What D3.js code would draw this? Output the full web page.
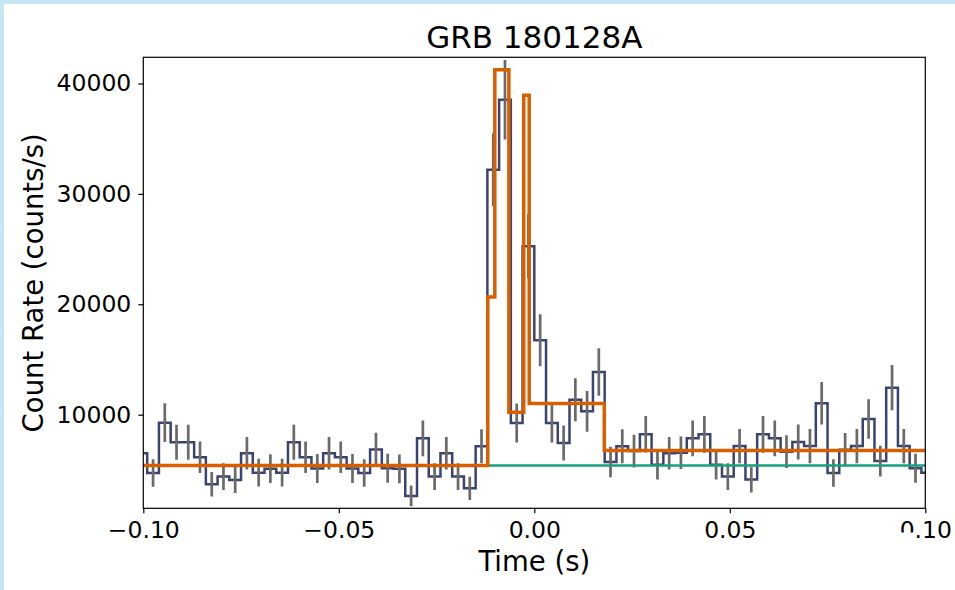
<!DOCTYPE html>
<html>
<head>
<meta charset="utf-8">
<script src="https://cdn.jsdelivr.net/npm/d3@7"></script>
<style>
  body { margin: 0; background: #ffffff; }
  svg { display: block; }
</style>
</head>
<body>
<svg id="chart" width="955" height="590"></svg>
<script>
// Light curve binning (seconds relative to trigger)
const binStart = -0.102;
const binWidth = 0.003;

// Count rate per bin (counts/s)
const rates = [
  6500, 4720, 9280, 7500, 7500, 6140, 3700, 4390, 4080, 6500,
  4750, 5110, 4750, 7500, 6140, 5120, 6500, 6140, 5120, 4720,
  6850, 5150, 5100, 2640, 7860, 4390, 6500, 4390, 3330, 7150,
  32190, 38530, 9250, 25250, 16740, 9250, 7440, 11360, 10300, 13870,
  5720, 7150, 6700, 8230, 5470, 6500, 6550, 7860, 8220, 5470,
  4390, 7160, 4120, 8220, 7860, 6650, 7520, 7160, 11030, 4720,
  6830, 7160, 9600, 5800, 12450, 7160, 5150, 4750
];

// 1-sigma uncertainty per bin (counts/s)
const rateErrors = [
  1470, 1250, 1760, 1580, 1580, 1430, 1110, 1210, 1170, 1470,
  1260, 1300, 1260, 1580, 1430, 1310, 1470, 1430, 1310, 1250,
  1510, 1310, 1300, 940, 1620, 1210, 1470, 1210, 1050, 1540,
  3300, 3600, 1760, 2900, 2360, 1760, 1580, 1950, 1850, 2150,
  1380, 1540, 1490, 1660, 1350, 1470, 1480, 1620, 1660, 1350,
  1210, 1550, 1170, 1660, 1620, 1490, 1580, 1550, 1920, 1250,
  1510, 1550, 1790, 1390, 2040, 1550, 1310, 1260
];

// Bayesian blocks representation
const blockEdges = [-0.1, -0.0119, -0.0101, -0.0065, -0.0027, -0.0013, 0.0179, 0.1];
const blockRates = [5400, 20660, 41250, 10230, 38930, 11020, 6760];

// Background level
const backgroundRate = 5390;

const xTicks = [-0.10, -0.05, 0.00, 0.05, 0.10];
const yTicks = [10000, 20000, 30000, 40000];

const titleText = "GRB 180128A";
const xLabel = "Time (s)";
const yLabel = "Count Rate (counts/s)";

// ---- layout ----
const W = 955, H = 590;
const plot = { left: 143.3, top: 57.3, right: 925.3, bottom: 508.3 };

const svg = d3.select("#chart");

// page frame strips
svg.append("rect").attr("x", 0).attr("y", 0).attr("width", W).attr("height", H).attr("fill", "#ffffff");
svg.append("rect").attr("x", 0).attr("y", 0).attr("width", W).attr("height", 4).attr("fill", "#c6e6f5");
svg.append("rect").attr("x", 0).attr("y", 0).attr("width", 4).attr("height", H).attr("fill", "#c6e6f5");

const x = d3.scaleLinear().domain([-0.1, 0.1]).range([plot.left, plot.right]);
const y = d3.scaleLinear().domain([1520, 42370]).range([plot.bottom, plot.top]);

svg.append("clipPath").attr("id", "plotClip")
  .append("rect")
  .attr("x", plot.left).attr("y", plot.top)
  .attr("width", plot.right - plot.left).attr("height", plot.bottom - plot.top);

const g = svg.append("g").attr("clip-path", "url(#plotClip)");

// histogram step line
const bins = rates.map((r, i) => ({
  t0: binStart + i * binWidth,
  t1: binStart + (i + 1) * binWidth,
  rate: r,
  err: rateErrors[i]
}));
const stepPts = bins.map(b => [b.t0, b.rate]);
stepPts.push([bins[bins.length - 1].t1, bins[bins.length - 1].rate]);

const stepLine = d3.line()
  .x(d => x(d[0]))
  .y(d => y(d[1]))
  .curve(d3.curveStepAfter);

g.append("path")
  .attr("d", stepLine(stepPts))
  .attr("fill", "none")
  .attr("stroke", "#3b4470")
  .attr("stroke-width", 2.5);

// error bars at bin centres
g.selectAll("line.err")
  .data(bins)
  .join("line")
  .attr("class", "err")
  .attr("x1", d => x((d.t0 + d.t1) / 2))
  .attr("x2", d => x((d.t0 + d.t1) / 2))
  .attr("y1", d => y(d.rate - d.err))
  .attr("y2", d => y(d.rate + d.err))
  .attr("stroke", "#6a6a6a")
  .attr("stroke-width", 2.7);

// background
g.append("line")
  .attr("x1", x(-0.1)).attr("x2", x(0.1))
  .attr("y1", y(backgroundRate)).attr("y2", y(backgroundRate))
  .attr("stroke", "#17a07a")
  .attr("stroke-width", 2.5);

// Bayesian blocks
const blockPts = blockRates.map((r, i) => [blockEdges[i], r]);
blockPts.push([blockEdges[blockEdges.length - 1], blockRates[blockRates.length - 1]]);
g.append("path")
  .attr("d", stepLine(blockPts))
  .attr("fill", "none")
  .attr("stroke", "#d75f00")
  .attr("stroke-width", 3.5);

// ---- axes ----
const fontFam = "'DejaVu Sans', sans-serif";

const xAxis = d3.axisBottom(x).tickValues(xTicks).tickFormat(d3.format(".2f"))
  .tickSize(5).tickPadding(8);
const yAxis = d3.axisLeft(y).tickValues(yTicks).tickFormat(d3.format("d"))
  .tickSize(5).tickPadding(7);

const gx = svg.append("g").attr("transform", `translate(0,${plot.bottom})`).call(xAxis);
const gy = svg.append("g").attr("transform", `translate(${plot.left},0)`).call(yAxis);

[gx, gy].forEach(ax => {
  ax.select(".domain").remove();
  ax.selectAll(".tick line").attr("stroke", "#000").attr("stroke-width", 1.2);
  ax.selectAll(".tick text")
    .attr("fill", "#000")
    .style("font-family", fontFam)
    .style("font-size", "23.5px");
});

// frame
svg.append("rect")
  .attr("x", plot.left).attr("y", plot.top)
  .attr("width", plot.right - plot.left).attr("height", plot.bottom - plot.top)
  .attr("fill", "none")
  .attr("stroke", "#000")
  .attr("stroke-width", 1.2);

// clipped corner of the last tick label
svg.append("rect")
  .attr("x", 898).attr("y", 532.5).attr("width", 17).attr("height", 10)
  .attr("fill", "#ffffff");

// title and axis labels
svg.append("text")
  .attr("x", (plot.left + plot.right) / 2).attr("y", 48)
  .attr("text-anchor", "middle")
  .style("font-family", fontFam).style("font-size", "31px")
  .attr("fill", "#000")
  .text(titleText);

svg.append("text")
  .attr("x", (plot.left + plot.right) / 2).attr("y", 571)
  .attr("text-anchor", "middle")
  .style("font-family", fontFam).style("font-size", "27.5px")
  .attr("fill", "#000")
  .text(xLabel);

svg.append("text")
  .attr("transform", `translate(43,${(plot.top + plot.bottom) / 2}) rotate(-90)`)
  .attr("text-anchor", "middle")
  .style("font-family", fontFam).style("font-size", "27.5px")
  .attr("fill", "#000")
  .text(yLabel);
</script>
</body>
</html>
